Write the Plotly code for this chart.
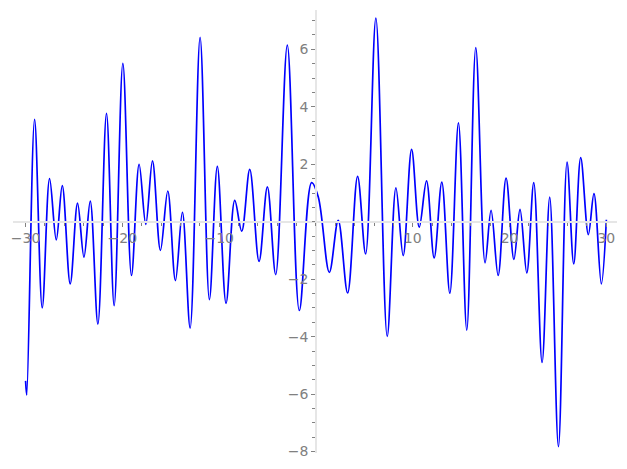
import plotly.graph_objects as go

# Curve points (local extrema of the plotted function)
x_pts = [-30.0, -29.88, -29.07, -28.28, -27.52, -26.83, -26.21, -25.39, -24.63, -23.97,
         -23.32, -22.53, -21.64, -20.85, -19.95, -19.06, -18.27, -17.58, -16.89, -16.07,
         -15.31, -14.52, -13.80, -13.00, -11.97, -11.01, -10.19, -9.29, -8.39, -7.67,
         -6.84, -5.88, -5.02, -4.16, -2.96, -1.72, -0.45, 0.24, 1.38, 2.30,
         3.27, 4.30, 5.13, 6.19, 7.36, 8.26, 9.01, 9.88, 10.67, 11.42,
         12.21, 13.00, 13.83, 14.72, 15.58, 16.51, 17.47, 18.09, 18.82, 19.64,
         20.45, 21.08, 21.78, 22.50, 23.36, 24.15, 25.05, 25.94, 26.63, 27.35,
         28.14, 28.72, 29.48, 30.0]
y_pts = [-5.54, -6.03, 3.56, -3.00, 1.50, -0.63, 1.26, -2.16, 0.65, -1.23,
         0.72, -3.56, 3.77, -2.92, 5.51, -1.87, 2.00, -0.09, 2.12, -1.00,
         1.07, -2.05, 0.33, -3.70, 6.42, -2.71, 1.93, -2.84, 0.74, -0.33,
         1.82, -1.38, 1.21, -1.84, 6.15, -3.09, 1.36, 0.86, -1.76, 0.05,
         -2.48, 1.58, -1.12, 7.09, -3.99, 1.18, -1.18, 2.52, -0.19, 1.42,
         -1.26, 1.38, -2.49, 3.44, -3.77, 6.06, -1.43, 0.40, -1.87, 1.52,
         -1.31, 0.43, -1.78, 1.36, -4.90, 0.86, -7.83, 2.08, -1.47, 2.23,
         -0.45, 0.98, -2.16, 0.07]

x_tickvals = [-30, -20, -10, 10, 20, 30]
x_ticktext = ["\u221230", "\u221220", "\u221210", "10", "20", "30"]
y_tickvals = [-8, -6, -4, -2, 2, 4, 6]
y_ticktext = ["\u22128", "\u22126", "\u22124", "\u22122", "2", "4", "6"]

x_range = [-31.3, 31.1]
y_range = [-8.05, 7.37]

fig = go.Figure()
fig.add_trace(go.Scatter(x=x_pts, y=y_pts, mode="lines",
                         line=dict(color="rgb(0,0,255)", width=1.7, shape="spline", smoothing=1.0),
                         hoverinfo="skip", showlegend=False))

axis_col = "rgb(230,230,230)"
tick_col = "rgb(130,130,130)"
font = dict(family="DejaVu Sans", size=14, color="rgb(128,128,128)")

x_pos = (0 - y_range[0]) / (y_range[1] - y_range[0])
y_pos = (0 - x_range[0]) / (x_range[1] - x_range[0])

# page body has an 8px default margin, so the figure is sized to fit inside it
fig.update_layout(
    width=611, height=453,
    margin=dict(l=5, r=2, t=2, b=8, pad=0, autoexpand=False),
    paper_bgcolor="white", plot_bgcolor="white",
    xaxis=dict(range=x_range, anchor="free", position=x_pos, showgrid=False, zeroline=False,
               automargin=False,
               showline=True, linecolor=axis_col, linewidth=1.7,
               tickmode="array", tickvals=x_tickvals, ticktext=x_ticktext,
               ticks="outside", ticklen=4, tickwidth=1, tickcolor=tick_col, tickfont=font,
               minor=dict(ticks="outside", dtick=2, tick0=0, ticklen=3, tickwidth=1,
                          tickcolor=tick_col, showgrid=False)),
    yaxis=dict(range=y_range, anchor="free", position=y_pos, showgrid=False, zeroline=False,
               automargin=False,
               showline=True, linecolor=axis_col, linewidth=1.7,
               tickmode="array", tickvals=y_tickvals, ticktext=y_ticktext,
               ticks="outside", ticklen=4, tickwidth=1, tickcolor=tick_col, tickfont=font,
               minor=dict(ticks="outside", dtick=0.5, tick0=0, ticklen=3, tickwidth=1,
                          tickcolor=tick_col, showgrid=False)),
)

fig.write_html("out.html")
